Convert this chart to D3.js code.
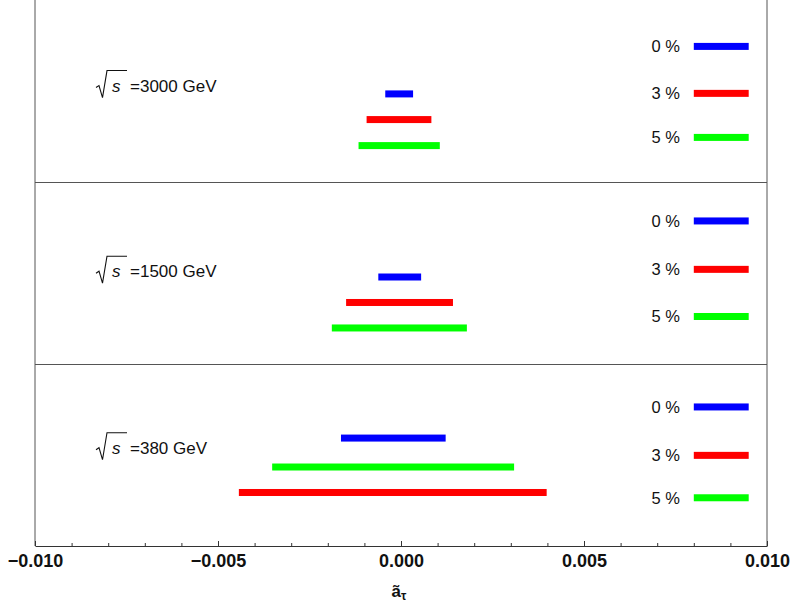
<!DOCTYPE html>
<html><head><meta charset="utf-8">
<script src="https://cdn.jsdelivr.net/npm/d3@7"></script>
<style>body{margin:0;background:#fff}svg{display:block}</style>
</head><body>
<svg id="c" width="791" height="609"></svg>
<script>
// ---- data ----
const energies = ["3000", "1500", "380"];
const levels = ["0 %", "3 %", "5 %"];
const seriesColors = ["#0000ff", "#ff0000", "#00ff00"];
// per panel: [0%, 3%, 5%]
const lo3000 = [-0.00043, -0.00094, -0.00116];
const hi3000 = [0.00033, 0.00083, 0.00106];
const y3000 = [4.84, 3.43, 2.0];
const lo1500 = [-0.00062, -0.00150, -0.00189];
const hi1500 = [0.00055, 0.00142, 0.00180];
const y1500 = [4.78, 3.38, 1.98];
const lo380 = [-0.00164, -0.00443, -0.00352];
const hi380 = [0.00122, 0.00398, 0.00309];
const y380 = [5.93, 2.94, 4.34];
// legend rows (panel y units) for 0%,3%,5%
const leg3000 = [7.45, 4.87, 2.45];
const leg1500 = [7.86, 5.20, 2.61];
const leg380 = [7.64, 4.98, 2.65];
const labelY = [5.3, 5.1, 5.4];
const xTicksMajor = [-0.010, -0.005, 0.000, 0.005, 0.010];

const panels = [
  {e: energies[0], lo: lo3000, hi: hi3000, y: y3000, leg: leg3000, ly: labelY[0]},
  {e: energies[1], lo: lo1500, hi: hi1500, y: y1500, leg: leg1500, ly: labelY[1]},
  {e: energies[2], lo: lo380, hi: hi380, y: y380, leg: leg380, ly: labelY[2]}
];

const svg = d3.select("#c");
const L = 35, R = 767, PH = 182, bottom = 546;
const x = d3.scaleLinear().domain([-0.010, 0.010]).range([L, R]);
const frameColor = "#555";
const FF = "Liberation Sans, Arial, sans-serif";

panels.forEach((p, i) => {
  const top = i * PH;
  const y = d3.scaleLinear().domain([0, 10]).range([top + PH, top]);
  const g = svg.append("g");
  // bars
  p.lo.forEach((lo, k) => {
    g.append("rect")
      .attr("x", x(lo)).attr("width", x(p.hi[k]) - x(lo))
      .attr("y", y(p.y[k]) - 3.5).attr("height", 7)
      .attr("fill", seriesColors[k]);
  });
  // legend
  levels.forEach((lab, k) => {
    g.append("rect")
      .attr("x", x(0.0080)).attr("width", x(0.0095) - x(0.0080))
      .attr("y", y(p.leg[k]) - 3.5).attr("height", 7)
      .attr("fill", seriesColors[k]);
    g.append("text")
      .attr("x", x(0.00762)).attr("y", y(p.leg[k]))
      .attr("dy", "0.36em").attr("text-anchor", "end")
      .attr("font-family", FF)
      .attr("font-size", 16.5).attr("fill", "#111").text(lab);
  });
  // energy label with radical
  const cy = y(p.ly);
  const x0 = 96;
  g.append("path")
    .attr("d", `M${x0},${cy+2} L${x0+3},${cy} L${x0+6.5},${cy+12} L${x0+11},${cy-15} L${x0+31},${cy-15}`)
    .attr("fill", "none").attr("stroke", "#111").attr("stroke-width", 1.1);
  g.append("text")
    .attr("x", x0 + 16).attr("y", cy).attr("dy", "0.36em")
    .attr("font-family", FF)
    .attr("font-style", "italic").attr("font-size", 17).attr("fill", "#111").text("s");
  g.append("text")
    .attr("x", x0 + 34).attr("y", cy).attr("dy", "0.36em")
    .attr("font-family", FF)
    .attr("font-size", 17).attr("fill", "#111").text("=" + p.e + " GeV");
  // divider
  if (i > 0) {
    svg.append("line").attr("x1", L).attr("x2", R).attr("y1", top + 0.5).attr("y2", top + 0.5)
      .attr("stroke", frameColor).attr("stroke-width", 1);
  }
});

// frame sides
svg.append("line").attr("x1", L).attr("x2", L).attr("y1", 0).attr("y2", bottom).attr("stroke", frameColor);
svg.append("line").attr("x1", R).attr("x2", R).attr("y1", 0).attr("y2", bottom).attr("stroke", frameColor);

// minor ticks
const minor = d3.range(-10, 11).map(v => v / 1000).filter(v => Math.abs(Math.round(v * 1000)) % 5 !== 0);
const axMinor = svg.append("g").attr("transform", `translate(0,${bottom})`)
  .call(d3.axisBottom(x).tickValues(minor).tickSize(-3).tickFormat(""));
axMinor.select(".domain").remove();
axMinor.selectAll(".tick line").attr("stroke", "#333");

const axMajor = svg.append("g").attr("transform", `translate(0,${bottom})`)
  .call(d3.axisBottom(x).tickValues(xTicksMajor).tickSize(-5).tickSizeOuter(0).tickFormat(d3.format(".3f")));
axMajor.select(".domain").attr("stroke", "#333");
axMajor.selectAll(".tick line").attr("stroke", "#333");
axMajor.selectAll(".tick text")
  .attr("y", 8).attr("dy", "0.71em")
  .attr("font-family", FF)
  .attr("font-weight", "bold").attr("font-size", 18).attr("fill", "#111");

// axis title
const t = svg.append("text").attr("x", x(0) - 2).attr("y", 597)
  .attr("text-anchor", "middle")
  .attr("font-family", FF)
  .attr("font-weight", "bold").attr("font-size", 17).attr("fill", "#111");
t.append("tspan").text("ã");
t.append("tspan").attr("font-size", 12).attr("dy", 3).text("τ");
</script>
</body></html>
